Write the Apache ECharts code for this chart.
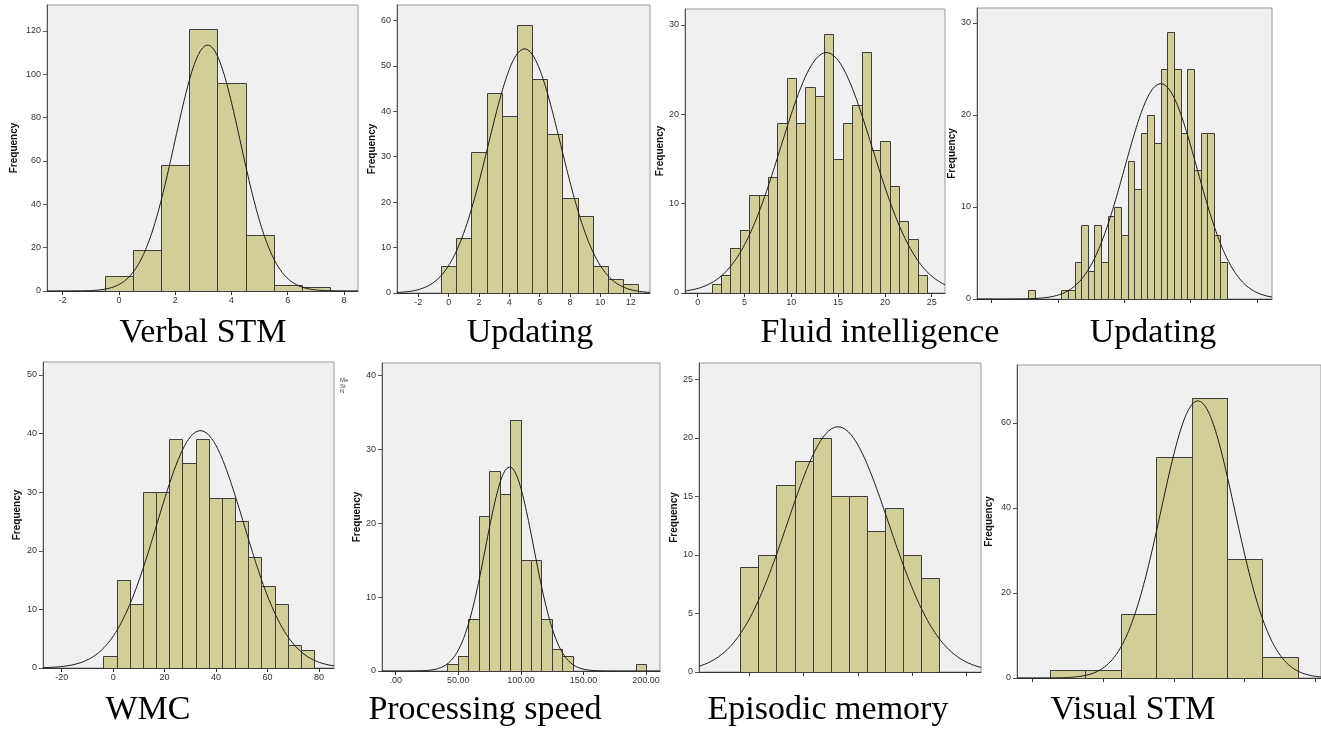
<!DOCTYPE html>
<html><head><meta charset="utf-8">
<script src="https://cdn.jsdelivr.net/npm/echarts@6/dist/echarts.min.js"></script>
<style>html,body{margin:0;padding:0;background:#fff}#c{width:1321px;height:731px}</style>
</head><body><div id="c"></div>
<script>
// ---------- DATA ----------
const panelTitles = ['Verbal STM', 'Updating', 'Fluid intelligence', 'Updating', 'WMC', 'Processing speed', 'Episodic memory', 'Visual STM'];

// histogram counts (left to right), first bin edge, bin width
const verbalStmCounts = [7, 19, 58, 121, 96, 26, 3, 2];
const verbalStmBins = [-0.5, 1];
const updatingACounts = [6, 12, 31, 44, 39, 59, 47, 35, 21, 17, 6, 3, 2];
const updatingABins = [-0.5, 1];
const fluidCounts = [1, 2, 5, 7, 11, 11, 13, 19, 24, 19, 23, 22, 29, 15, 19, 21, 27, 16, 17, 12, 8, 6, 2];
const fluidBins = [1.5, 1];
const updatingBCounts = [1, 0, 0, 0, 0, 1, 1, 4, 8, 3, 8, 4, 9, 10, 7, 15, 12, 18, 20, 17, 25, 29, 25, 18, 25, 14, 18, 18, 7, 4];
const updatingBBins = [5.5, 1];
const wmcCounts = [2, 15, 11, 30, 30, 39, 35, 39, 29, 29, 25, 19, 14, 11, 4, 3];
const wmcBins = [-3.8, 5.12];
const speedCounts = [1, 2, 7, 21, 27, 24, 34, 15, 15, 7, 3, 2, 0, 0, 0, 0, 0, 0, 1];
const speedBins = [41.2, 8.36];
const episodicCounts = [9, 10, 16, 18, 20, 15, 15, 12, 14, 10, 8];
const episodicBins = [-0.5, 1];
const visualStmCounts = [2, 2, 15, 52, 66, 28, 5];
const visualStmBins = [0.5, 1];

// fitted normal curve: [mean, sd, N]
const verbalStmNormal = [3.15, 1.167, 332];
const updatingANormal = [5.0, 2.39, 322];
const fluidNormal = [13.75, 4.88, 329];
const updatingBNormal = [25.5, 5.47, 321];
const wmcNormal = [33.9, 16.9, 335];
const speedNormal = [91, 19.2, 159];
const episodicNormal = [4.9, 2.8, 147];
const visualStmNormal = [4.68, 1.04, 170];

// axis tick values
const verbalStmXTicks = [-2, 0, 2, 4, 6, 8];
const verbalStmYTicks = [0, 20, 40, 60, 80, 100, 120];
const updatingAXTicks = [-2, 0, 2, 4, 6, 8, 10, 12];
const updatingAYTicks = [0, 10, 20, 30, 40, 50, 60];
const fluidXTicks = [0, 5, 10, 15, 20, 25];
const fluidYTicks = [0, 10, 20, 30];
const updatingBXTicks = [0, 10, 20, 30, 40];
const updatingBYTicks = [0, 10, 20, 30];
const wmcXTicks = [-20, 0, 20, 40, 60, 80];
const wmcYTicks = [0, 10, 20, 30, 40, 50];
const speedXTicks = [0, 50, 100, 150, 200];
const speedXLabels = ['.00', '50.00', '100.00', '150.00', '200.00'];
const speedYTicks = [0, 10, 20, 30, 40];
const episodicXTicks = [0, 3, 6, 9, 12];
const episodicYTicks = [0, 5, 10, 15, 20, 25];
const visualStmXTicks = [0, 2, 4, 6, 8];
const visualStmYTicks = [0, 20, 40, 60];

// ---------- LAYOUT ----------
const panels = [
  {counts: verbalStmCounts, bins: verbalStmBins, normal: verbalStmNormal, xt: verbalStmXTicks, yt: verbalStmYTicks, xl: true},
  {counts: updatingACounts, bins: updatingABins, normal: updatingANormal, xt: updatingAXTicks, yt: updatingAYTicks, xl: true},
  {counts: fluidCounts, bins: fluidBins, normal: fluidNormal, xt: fluidXTicks, yt: fluidYTicks, xl: true},
  {counts: updatingBCounts, bins: updatingBBins, normal: updatingBNormal, xt: updatingBXTicks, yt: updatingBYTicks, xl: false},
  {counts: wmcCounts, bins: wmcBins, normal: wmcNormal, xt: wmcXTicks, yt: wmcYTicks, xl: true},
  {counts: speedCounts, bins: speedBins, normal: speedNormal, xt: speedXTicks, yt: speedYTicks, xl: true, labels: speedXLabels},
  {counts: episodicCounts, bins: episodicBins, normal: episodicNormal, xt: episodicXTicks, yt: episodicYTicks, xl: false},
  {counts: visualStmCounts, bins: visualStmBins, normal: visualStmNormal, xt: visualStmXTicks, yt: visualStmYTicks, xl: false}
];
// grid rect [left, top, width, height], x range, y max, name gap
const layout = [
  {g: [47, 5, 311, 286], x: [-2.558, 8.498], y: 132.0, ng: 28},
  {g: [397, 5, 253, 288], x: [-3.404, 13.274], y: 63.4, ng: 18},
  {g: [685, 9, 260, 284], x: [-1.357, 26.42], y: 31.77, ng: 20},
  {g: [977, 8, 295, 291], x: [-2.217, 42.28], y: 31.63, ng: 20},
  {g: [43, 362, 291, 306], x: [-27.27, 85.83], y: 52.2, ng: 21},
  {g: [382, 363, 278, 308], x: [-10.94, 211.1], y: 41.68, ng: 19},
  {g: [699, 363, 282, 309], x: [-2.78, 12.8], y: 26.39, ng: 20},
  {g: [1017, 365, 306, 313], x: [-0.435, 8.16], y: 73.65, ng: 23}
];
const titlePos = [[203, 333], [530, 333], [880, 333], [1153, 333], [148, 710], [485, 710], [828, 710], [1133, 710]];

const SANS = 'Liberation Sans, Arial, sans-serif';
const grids = [], xAxes = [], yAxes = [], series = [], graphics = [];

function normalCurve(p, min, max) {
  const [mean, sd, n] = p.normal;
  const w = p.bins[1];
  const pts = [];
  const steps = 300;
  for (let k = 0; k <= steps; k++) {
    const x = min + (max - min) * k / steps;
    pts.push([x, n * w / (sd * Math.sqrt(2 * Math.PI)) * Math.exp(-0.5 * Math.pow((x - mean) / sd, 2))]);
  }
  return pts;
}

panels.forEach((p, i) => {
  const L = layout[i];
  grids.push({left: L.g[0], top: L.g[1], width: L.g[2], height: L.g[3], show: true,
    backgroundColor: '#F0F0F0', borderColor: '#9a9a9a', borderWidth: 1, containLabel: false});
  xAxes.push({
    type: 'value', gridIndex: i, min: L.x[0], max: L.x[1],
    axisLine: {show: true, onZero: false, lineStyle: {color: '#333', width: 1}},
    axisTick: {show: true, customValues: p.xt, length: 4, lineStyle: {color: '#333'}},
    axisLabel: {show: p.xl, customValues: p.xt, fontSize: 9, color: '#333', margin: 5, fontFamily: SANS,
      formatter: v => p.labels ? p.labels[p.xt.indexOf(v)] : String(v)},
    splitLine: {show: false}
  });
  yAxes.push({
    type: 'value', gridIndex: i, min: 0, max: L.y,
    name: 'Frequency', nameLocation: 'middle', nameGap: L.ng,
    nameTextStyle: {fontWeight: 'bold', fontSize: 10, color: '#111', fontFamily: SANS},
    axisLine: {show: true, onZero: false, lineStyle: {color: '#555', width: 1}},
    axisTick: {show: true, customValues: p.yt, length: 4, lineStyle: {color: '#555'}},
    axisLabel: {customValues: p.yt, fontSize: 9, color: '#333', margin: 6, fontFamily: SANS},
    splitLine: {show: false}
  });
  const barData = [];
  p.counts.forEach((c, k) => {
    if (c > 0) barData.push([p.bins[0] + k * p.bins[1], p.bins[0] + (k + 1) * p.bins[1], c]);
  });
  series.push({
    type: 'custom', xAxisIndex: i, yAxisIndex: i, data: barData, silent: true,
    renderItem: (params, api) => {
      const a = api.coord([api.value(0), api.value(2)]);
      const b = api.coord([api.value(1), 0]);
      return {type: 'rect', shape: {x: Math.round(a[0]) + 0.5, y: Math.round(a[1]) + 0.5,
        width: Math.round(b[0]) - Math.round(a[0]), height: Math.round(b[1]) - Math.round(a[1])},
        style: {fill: '#D3CE97', stroke: '#3d3d3d', lineWidth: 1}};
    },
    encode: {x: [0, 1], y: 2}, z: 2
  });
  series.push({
    type: 'line', xAxisIndex: i, yAxisIndex: i, data: normalCurve(p, L.x[0], L.x[1]),
    showSymbol: false, smooth: false, silent: true, clip: true,
    lineStyle: {color: '#1a1a1a', width: 1}, z: 3
  });
  graphics.push({type: 'text', x: titlePos[i][0], y: titlePos[i][1],
    style: {text: panelTitles[i], font: '34px "Liberation Serif", "Times New Roman", serif',
      fill: '#000', textAlign: 'center', textVerticalAlign: 'middle'}});
});

// cropped legend fragment between WMC and Processing speed
graphics.push({type: 'text', x: 340, y: 378,
  style: {text: 'Me\nSt\nN', font: '6px ' + SANS, fill: '#444', lineHeight: 5.5}});

const chart = echarts.init(document.getElementById('c'), null, {renderer: 'canvas'});
chart.setOption({
  animation: false,
  backgroundColor: '#fff',
  grid: grids, xAxis: xAxes, yAxis: yAxes, series: series,
  graphic: graphics
});
</script>
</body></html>
